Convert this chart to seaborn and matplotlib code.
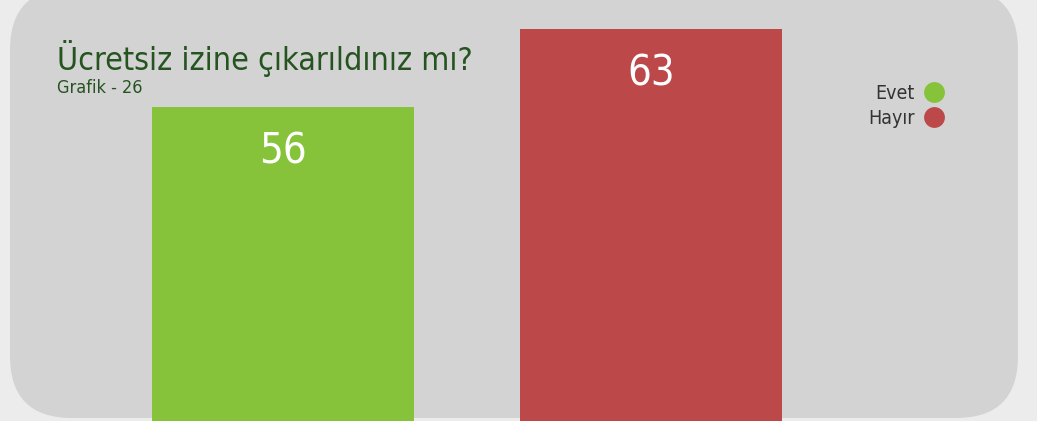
import matplotlib
matplotlib.use("Agg")
import matplotlib.pyplot as plt
from matplotlib.patches import FancyBboxPatch
from matplotlib.lines import Line2D
import seaborn as sns
import pandas as pd

categories = ["Evet", "Hayır"]
values = [56, 63]
colors = ["#87c33a", "#bd484a"]

title = "Ücretsiz izine çıkarıldınız mı?"
subtitle = "Grafik - 26"

W, H = 1037, 421
DPI = 100

sns.set_theme(style="white")
narrow = ["Liberation Sans Narrow", "DejaVu Sans"]
plt.rcParams["font.family"] = narrow

fig = plt.figure(figsize=(W / DPI, H / DPI), dpi=DPI)
fig.patch.set_facecolor("#ececec")

# rounded grey panel, drawn in inches so the corners stay circular
panel = FancyBboxPatch((0.10, 0.03), 10.08, 4.30,
                       boxstyle="round,pad=0,rounding_size=0.62",
                       transform=fig.dpi_scale_trans,
                       facecolor="#d3d3d3", edgecolor="none", zorder=-5)
fig.patches.append(panel)

ax = fig.add_axes([0, 0, 1, 1])
ax.set_zorder(1)
ax.patch.set_alpha(0)

df = pd.DataFrame({"cat": categories, "val": values})
sns.barplot(data=df, x="cat", y="val", hue="cat", palette=colors,
            width=0.712, saturation=1, legend=False, ax=ax, zorder=2,
            linewidth=0, edgecolor="none")

ax.set_xlim(-0.769, 2.049)
ax.set_ylim(27.82, 65.6)
ax.set_axis_off()

for i, v in enumerate(values):
    ax.annotate(str(v), xy=(i, v), xytext=(0, -32), textcoords="offset points",
                ha="center", va="center", color="white", fontsize=30,
                fontstretch="condensed", zorder=3)

fig.text(57 / W, 1 - 70 / H, title, ha="left", va="baseline",
         color="#255420", fontsize=23, fontstretch="condensed")
fig.text(57 / W, 1 - 93 / H, subtitle, ha="left", va="baseline",
         color="#255420", fontsize=13, fontstretch="condensed")

handles = [Line2D([], [], linestyle="none", marker="o", markersize=15,
                  markerfacecolor=c, markeredgecolor="none") for c in colors]
leg = ax.legend(handles, categories, loc="upper right",
                bbox_to_anchor=(944 / W, 1 - 84 / H), bbox_transform=fig.transFigure,
                frameon=False, markerfirst=False, borderpad=0, borderaxespad=0,
                handlelength=1.0, handletextpad=0.5, labelspacing=0.3,
                prop={"family": narrow, "size": 14, "stretch": "condensed"})
for t in leg.get_texts():
    t.set_color("#333333")

fig.savefig("out.png", dpi=DPI, facecolor=fig.get_facecolor())
